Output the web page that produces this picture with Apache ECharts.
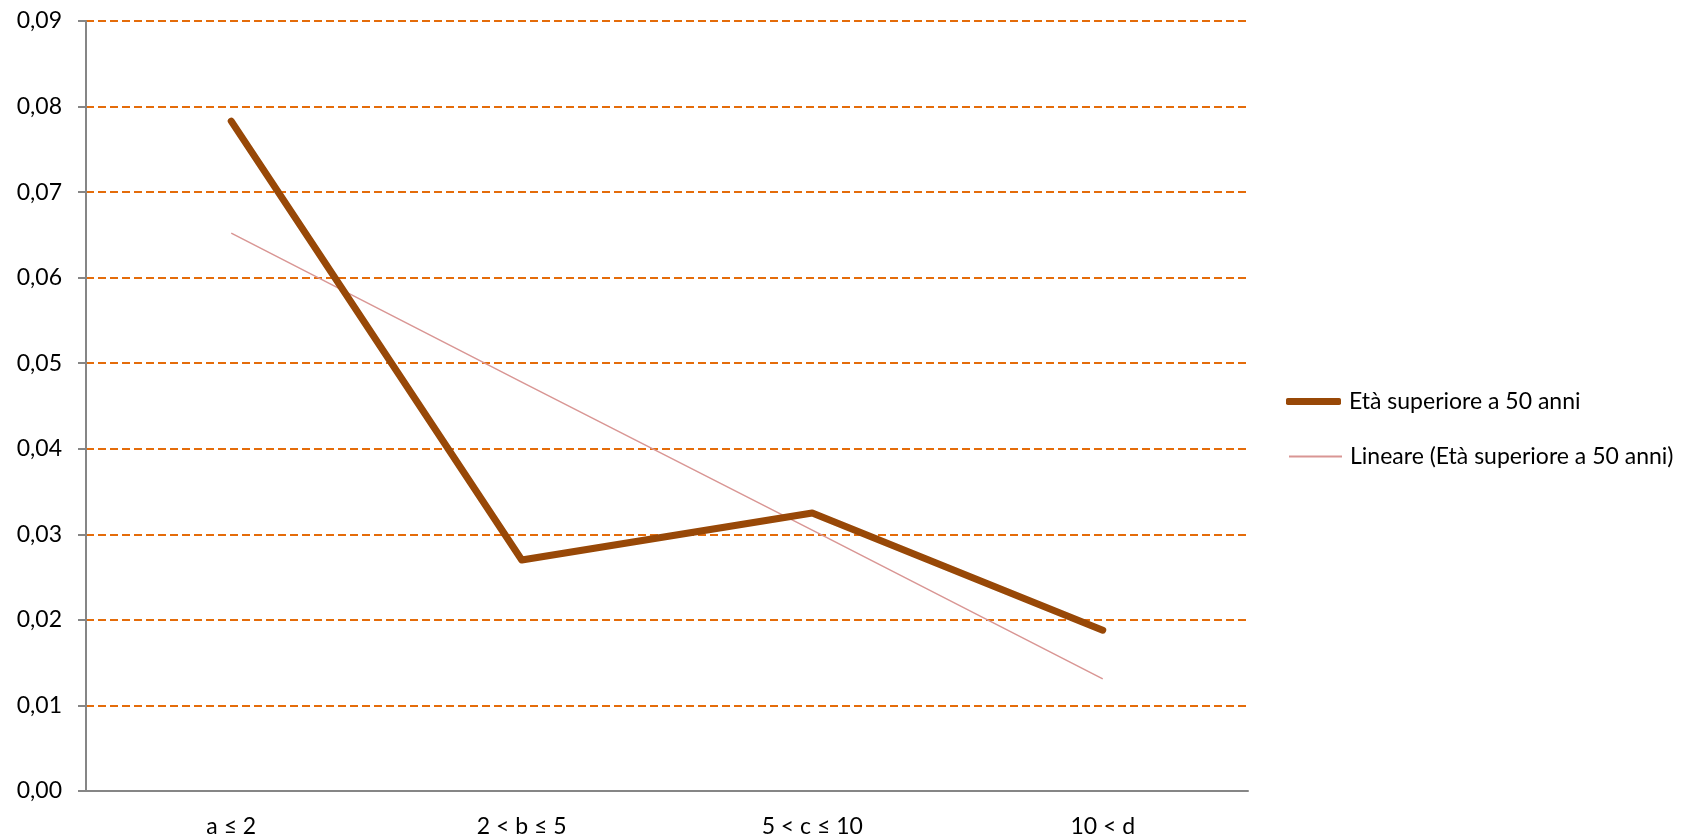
<!DOCTYPE html>
<html>
<head>
<meta charset="utf-8">
<script src="https://cdn.jsdelivr.net/npm/echarts@6/dist/echarts.min.js"></script>
<style>
  html, body { margin: 0; padding: 0; background: #fff; }
  #chart { width: 1706px; height: 840px; }
</style>
</head>
<body>
<div id="chart"></div>
<script>
// categories and values
const categories = ["a \u2264 2", "2 < b \u2264 5", "5 < c \u2264 10", "10 < d"];
const over50 = [0.0783, 0.0270, 0.0325, 0.0188];
const trend = [0.0652, 0.0478, 0.0305, 0.0131];
const series_names = ["Et\u00e0 superiore a 50 anni", "Lineare (Et\u00e0 superiore a 50 anni)"];
const series_colors = ["#984807", "#D99694"];

const chart = echarts.init(document.getElementById("chart"));
const font = "Lato, 'Open Sans', sans-serif";
const legend_text = { color: "#000", fontSize: 23, fontFamily: font, padding: [0, 0, 0, 3] };

chart.setOption({
  backgroundColor: "#ffffff",
  animation: false,
  textStyle: { fontFamily: font },
  grid: { left: 86, top: 21, width: 1162, height: 770, containLabel: false },
  // one legend per series so each sample can have its own thickness
  legend: [
    {
      left: 1286,
      top: 390,
      padding: 0,
      itemWidth: 55,
      itemHeight: 7,
      icon: "roundRect",
      selectedMode: false,
      textStyle: legend_text,
      data: [{ name: series_names[0], itemStyle: { color: series_colors[0] } }],
    },
    {
      left: 1289,
      top: 445,
      padding: 0,
      itemWidth: 53,
      itemHeight: 2,
      icon: "rect",
      selectedMode: false,
      textStyle: legend_text,
      data: [{ name: series_names[1], itemStyle: { color: series_colors[1] } }],
    },
  ],
  xAxis: {
    type: "category",
    data: categories,
    boundaryGap: true,
    axisLine: { lineStyle: { color: "#868686", width: 2 } },
    axisTick: { length: 8, lineStyle: { color: "#868686", width: 2 } },
    axisLabel: { color: "#000", fontSize: 23, fontFamily: font, margin: 24 },
    splitLine: { show: false },
  },
  yAxis: {
    type: "value",
    min: 0,
    max: 0.09,
    interval: 0.01,
    axisLine: { show: true, lineStyle: { color: "#868686", width: 2 } },
    axisTick: { show: true, length: 8, lineStyle: { color: "#868686", width: 2 } },
    axisLabel: {
      color: "#000",
      fontSize: 23,
      fontFamily: font,
      margin: 24,
      formatter: (v) => v.toFixed(2).replace(".", ","),
    },
    splitLine: {
      lineStyle: { color: "#E46C0A", width: 2, type: [8, 4] },
    },
  },
  series: [
    {
      name: series_names[0],
      type: "line",
      data: over50,
      symbol: "none",
      color: series_colors[0],
      lineStyle: { color: series_colors[0], width: 7, cap: "round", join: "round" },
      z: 3,
    },
    {
      name: series_names[1],
      type: "line",
      data: trend,
      symbol: "none",
      color: series_colors[1],
      lineStyle: { color: series_colors[1], width: 1.5 },
      z: 2,
    },
  ],
});
</script>
</body>
</html>
